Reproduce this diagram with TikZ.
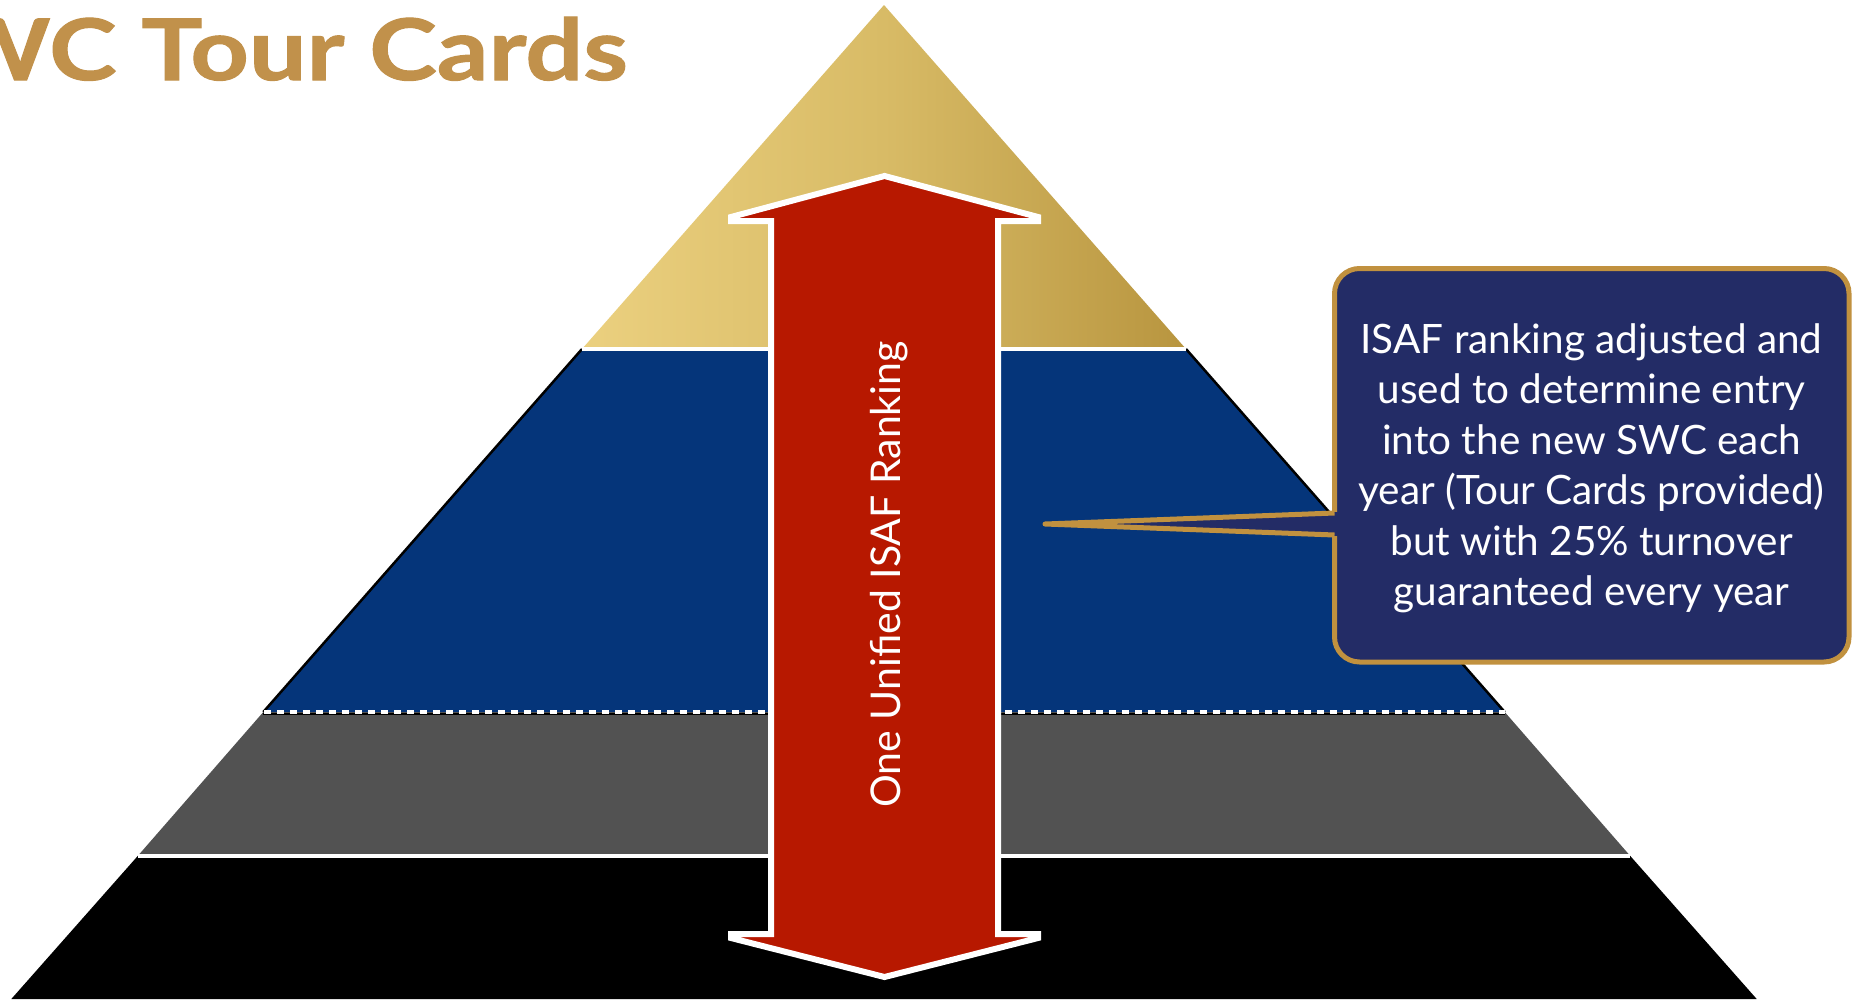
\documentclass[tikz,border=0pt]{standalone}
\usepackage{fontspec}
\setmainfont{Lato}
\newfontfamily\titlefont[FakeStretch=1.2,FakeBold=1.2]{Lato}
\usetikzlibrary{calc}
\definecolor{goldL}{HTML}{EBD07F}
\definecolor{goldM}{HTML}{D8BB66}
\definecolor{goldD}{HTML}{B8953F}
\definecolor{bandblue}{HTML}{05357A}
\definecolor{bandgray}{HTML}{525252}
\definecolor{arrowred}{HTML}{B71800}
\definecolor{callblue}{HTML}{232C66}
\definecolor{callgold}{HTML}{C1913F}
\definecolor{titlegold}{HTML}{C1914B}
\tikzset{
  sepline/.style={white, line width=4},
  bandedge/.style={black, line width=2.5},
  bigarrow/.style={fill=arrowred, draw=white, line width=6, line join=miter},
  calloutbox/.style={draw=callgold, fill=callblue, line width=5, rounded corners=25, inner sep=0},
  callouttext/.style={text=white, align=center, inner sep=0, font=\fontsize{40.5}{50.5}\selectfont},
  ranktext/.style={text=white, inner sep=0, font=\fontsize{41}{50}\selectfont},
  titletext/.style={text=titlegold, inner sep=0, font=\fontsize{85}{100}\titlefont\bfseries}
}
\begin{document}
\begin{tikzpicture}[x=1pt,y=-1pt]
\useasboundingbox (0,0) rectangle (1862,1001);
\fill[white] (0,0) rectangle (1862,1001);
\begin{scope}
\clip (0,0) rectangle (1862,1001);
% pyramid points
\coordinate (apex) at (884,5);
\coordinate (g1) at (582,349);
\coordinate (g2) at (1186,349);
\coordinate (b1) at (263.3,712);
\coordinate (b2) at (1504.7,712);
\coordinate (c1) at (137.7,856);
\coordinate (c2) at (1630.3,856);
\coordinate (d1) at (11.3,999);
\coordinate (d2) at (1756.7,999);
% bands
\shade[left color=goldL, right color=goldD, middle color=goldM] (apex) -- (g2) -- (g1) -- cycle;
\fill[bandblue] (g1) -- (g2) -- (b2) -- (b1) -- cycle;
\fill[bandgray] (b1) -- (b2) -- (c2) -- (c1) -- cycle;
\fill[black] (c1) -- (c2) -- (d2) -- (d1) -- cycle;
% edges and separators
\draw[bandedge] (g1) -- (b1);
\draw[bandedge] (g2) -- (b2);
\draw[sepline] (g1) -- (g2);
\draw[black, line width=2] ($(b1)+(0,2)$) -- ($(b2)+(0,2)$);
\draw[white, line width=3.5, dash pattern=on 7 off 6] ($(b1)+(1,0)$) -- (b2);
\draw[sepline] (c1) -- (c2);
% double arrow
\draw[bigarrow] (884.5,176) -- (731,217) -- (731,221) -- (771,221) -- (771,934)
  -- (731,934) -- (731,938) -- (884.5,977) -- (1038,938) -- (1038,934)
  -- (998,934) -- (998,221) -- (1038,221) -- (1038,217) -- cycle;
\node[ranktext, rotate=90, anchor=base] (rank) at (900,574.5) {One Unified ISAF Ranking};
% title
\node[titletext, anchor=base east] (title) at (628,80) {WC Tour Cards};
% callout
\node[calloutbox, minimum width=514.5, minimum height=393.5] (callout) at (1591.75,465.25) {};
\coordinate (tip) at (1045,524);
\fill[callblue] (1339,512) -- (tip) -- (1339,536) -- cycle;
\draw[callgold, line width=5, line join=round] (1334.5,513) -- (tip) -- (1334.5,535);
\node[callouttext, anchor=base] (calltext) at (1591.5,605.5) {ISAF ranking adjusted and\\used to determine entry\\into the new SWC each\\year (Tour Cards provided)\\but with 25\% turnover\\guaranteed every year};
\end{scope}
\end{tikzpicture}
\end{document}
